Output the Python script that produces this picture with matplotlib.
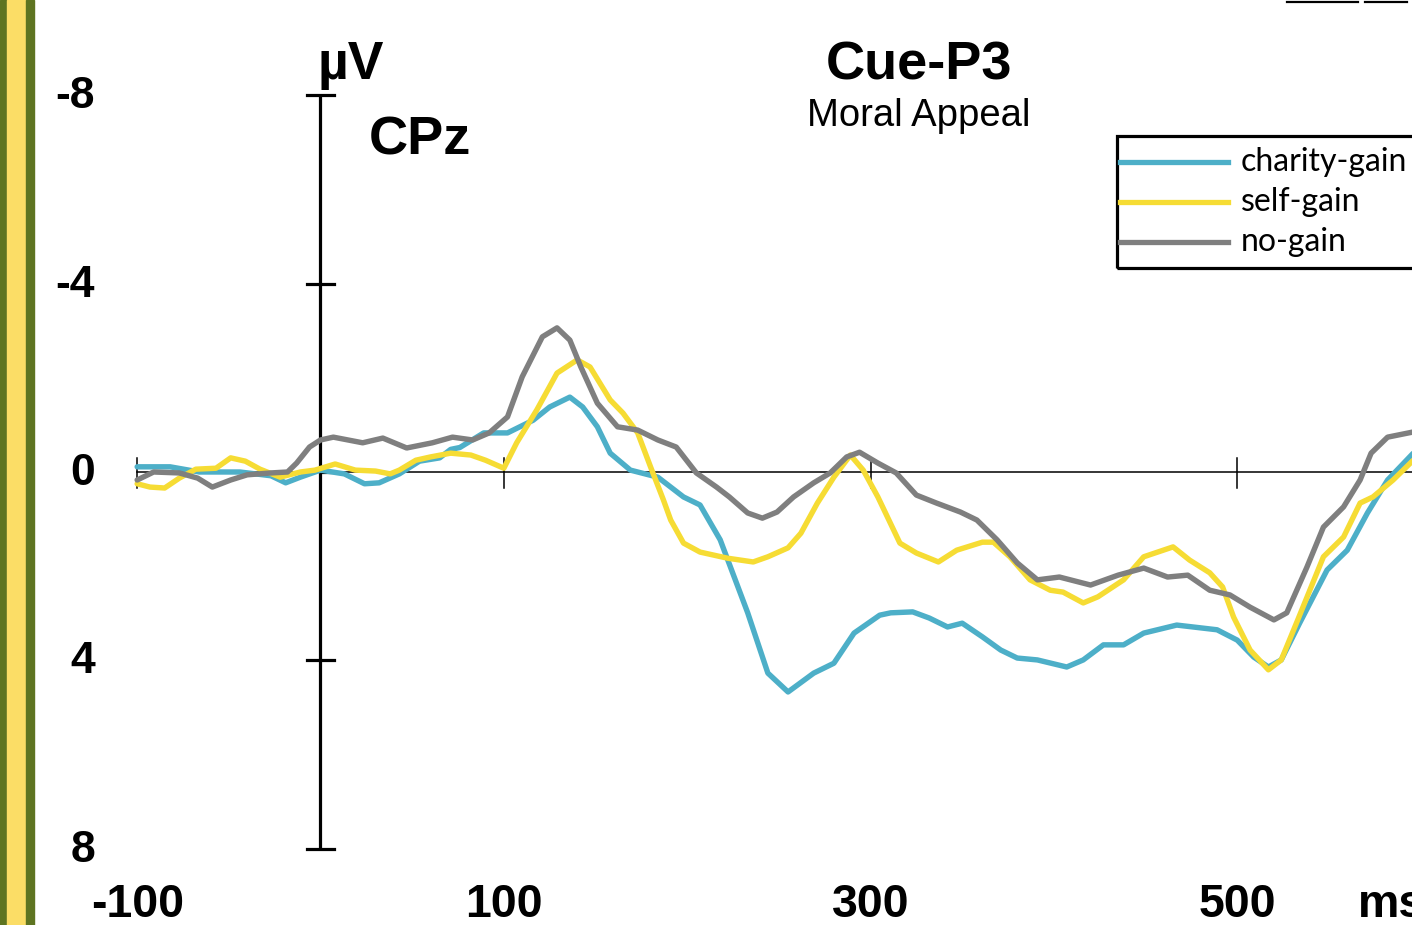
import matplotlib
matplotlib.use("Agg")
import matplotlib.pyplot as plt
from matplotlib.patches import Rectangle
from matplotlib.lines import Line2D

# ---------------- data ----------------
labels = ["charity-gain", "self-gain", "no-gain"]
colors = ["#4DAFC8", "#F6DC34", "#7F7F7F"]

charity_t = [-100, -82, -66, -44, -27, -19, -11, 0, 13, 24, 32, 43, 54, 65, 71, 76, 89, 102,
             116, 125, 136, 143, 151, 158, 169, 184, 198, 207, 218, 233, 244, 255, 269, 280,
             291, 305, 311, 323, 332, 342, 350, 361, 371, 380, 391, 407, 416, 427, 438, 449,
             467, 489, 500, 509, 517, 524, 534, 549, 560, 571, 582, 596]
charity_v = [-0.11, -0.11, 0.0, 0.0, 0.08, 0.23, 0.11, -0.04, 0.04, 0.25, 0.23, 0.04, -0.23,
             -0.30, -0.48, -0.52, -0.83, -0.83, -1.10, -1.38, -1.59, -1.38, -0.96, -0.40,
             -0.04, 0.11, 0.53, 0.70, 1.44, 2.99, 4.27, 4.67, 4.27, 4.06, 3.42, 3.04, 2.99,
             2.97, 3.10, 3.29, 3.21, 3.50, 3.78, 3.95, 3.99, 4.14, 3.99, 3.67, 3.67, 3.42,
             3.25, 3.35, 3.57, 3.93, 4.14, 3.99, 3.21, 2.08, 1.66, 0.87, 0.17, -0.40]

self_t = [-100, -93, -85, -77, -68, -57, -49, -41, -33, -22, -11, -3, 8, 19, 30, 38, 43, 52,
          60, 71, 82, 90, 100, 107, 118, 129, 140, 147, 158, 165, 173, 180, 187, 191, 198,
          207, 222, 236, 244, 255, 262, 271, 280, 289, 296, 304, 316, 325, 337, 347, 361,
          367, 376, 387, 398, 405, 416, 424, 438, 449, 465, 474, 485, 492, 498, 507, 517,
          524, 533, 547, 558, 567, 574, 585, 596]
self_v = [0.25, 0.32, 0.34, 0.13, -0.06, -0.08, -0.30, -0.23, -0.06, 0.11, 0.0, -0.04, -0.17,
          -0.04, -0.02, 0.04, -0.04, -0.25, -0.32, -0.40, -0.36, -0.25, -0.08, -0.62, -1.32,
          -2.10, -2.38, -2.23, -1.53, -1.25, -0.83, -0.11, 0.59, 1.02, 1.51, 1.70, 1.83,
          1.91, 1.80, 1.61, 1.30, 0.66, 0.11, -0.36, -0.04, 0.53, 1.51, 1.72, 1.91, 1.66,
          1.49, 1.49, 1.80, 2.29, 2.51, 2.55, 2.78, 2.65, 2.29, 1.80, 1.59, 1.87, 2.14, 2.44,
          3.08, 3.78, 4.20, 3.99, 3.14, 1.80, 1.38, 0.66, 0.53, 0.17, -0.25]

nogain_t = [-100, -91, -77, -67, -59, -49, -40, -27, -18, -13, -6, 0, 7, 23, 34, 47, 61, 72,
            83, 92, 102, 110, 121, 129, 136, 142, 151, 162, 173, 184, 194, 205, 216, 223,
            233, 241, 249, 258, 269, 278, 287, 294, 304, 314, 325, 336, 349, 358, 369, 380,
            391, 403, 420, 435, 449, 462, 473, 485, 496, 507, 520, 527, 538, 547, 558, 567,
            573, 582, 596]
nogain_v = [0.17, 0.0, 0.02, 0.13, 0.32, 0.17, 0.06, 0.02, 0.0, -0.19, -0.53, -0.68, -0.74,
            -0.62, -0.72, -0.51, -0.62, -0.74, -0.68, -0.83, -1.17, -2.02, -2.87, -3.06,
            -2.80, -2.23, -1.46, -0.96, -0.89, -0.68, -0.53, 0.02, 0.32, 0.53, 0.87, 0.98,
            0.85, 0.53, 0.23, 0.02, -0.32, -0.42, -0.19, 0.02, 0.49, 0.66, 0.85, 1.02, 1.44,
            1.93, 2.29, 2.23, 2.40, 2.19, 2.04, 2.23, 2.19, 2.51, 2.61, 2.87, 3.14, 2.99,
            2.02, 1.17, 0.74, 0.17, -0.40, -0.74, -0.85]

x_ticks = [-100, 100, 300, 500]
x_tick_labels = ["-100", "100", "300", "500"]
y_ticks = [-8, -4, 0, 4, 8]
y_tick_labels = ["-8", "-4", "0", "4", "8"]

# ---------------- figure ----------------
W, H = 1412, 925
fig = plt.figure(figsize=(W / 100, H / 100), dpi=100)
ax = fig.add_axes([0, 0, 1, 1])
ax.set_axis_off()

pxms = 1.8335    # pixels per ms
pxuv = 47.1      # pixels per microvolt
x0px, y0px = 320.5, 472.0
ax.set_xlim(-x0px / pxms, (W - x0px) / pxms)
ax.set_ylim((H - y0px) / pxuv, -y0px / pxuv)   # inverted: negative up

# left decorative bar
fig.patches.append(Rectangle((0, 0), 7 / W, 1, transform=fig.transFigure, color="#5E7421", zorder=0))
fig.patches.append(Rectangle((7 / W, 0), 19 / W, 1, transform=fig.transFigure, color="#FBDD66", zorder=0))
fig.patches.append(Rectangle((26 / W, 0), 8 / W, 1, transform=fig.transFigure, color="#5E7421", zorder=0))

# top-right cut lines
fig.lines.append(Line2D([1287 / W, 1358 / W], [1 - 1.5 / H, 1 - 1.5 / H], transform=fig.transFigure, color="black", lw=1.6))
fig.lines.append(Line2D([1365 / W, 1407 / W], [1 - 1.5 / H, 1 - 1.5 / H], transform=fig.transFigure, color="black", lw=1.6))

# x axis (zero line) with ticks
ax.plot([-100, 600], [0, 0], color="black", lw=1.1, zorder=2)
for t in x_ticks:
    ax.plot([t, t], [-0.3, 0.33], color="black", lw=1.1, zorder=2)

# y axis at 0 ms
ax.plot([0, 0], [-8, 8], color="black", lw=2.3, zorder=2, solid_capstyle="butt")
for v in y_ticks:
    if v == 0:
        ax.plot([0, 7], [0, 0], color="black", lw=2.3, zorder=2)
    else:
        ax.plot([-7.6, 7.6], [v, v], color="black", lw=2.3, zorder=2)

bold = dict(family="Liberation Sans", weight="bold", color="black")
for v, lab in zip(y_ticks, y_tick_labels):
    ax.text(-123, v + 0.03, lab, ha="right", va="center", fontsize=32, **bold)
for t, lab in zip(x_ticks, x_tick_labels):
    ax.text(t, 9.2, lab, ha="center", va="center", fontsize=33.5, **bold)
ax.text(566, 9.2, "ms", ha="left", va="center", fontsize=33.5, **bold)
ax.text(-1.5, -8.64, "µV", ha="left", va="center", fontsize=38.5, **bold)
ax.text(26.5, -7.04, "CPz", ha="left", va="center", fontsize=39, **bold)
ax.text(326.5, -8.62, "Cue-P3", ha="center", va="center", fontsize=39, **bold)
ax.text(326.5, -7.56, "Moral Appeal", ha="center", va="center", fontsize=27.5,
        family="Liberation Sans", color="black")

# waveforms
series = [(charity_t, charity_v), (self_t, self_v), (nogain_t, nogain_v)]
for (t, v), c in zip(series, colors):
    ax.plot(t, v, color=c, lw=3.9, solid_joinstyle="round", solid_capstyle="round", zorder=3)

# legend (manual, clipped by figure edge)
lx0 = 1117
fig.patches.append(Rectangle((lx0 / W, 1 - 268 / H), (W + 20 - lx0) / W, (268 - 136) / H,
                             transform=fig.transFigure, fill=False, ec="black", lw=2.3, zorder=5))
for i, (lab, c) in enumerate(zip(labels, colors)):
    yy = 1 - (162 + 40 * i) / H
    fig.lines.append(Line2D([1120 / W, 1228 / W], [yy, yy], transform=fig.transFigure,
                            color=c, lw=3.8, zorder=6))
    fig.text(1241 / W, yy, lab, ha="left", va="center", fontsize=23, family="Lato",
             color="black", zorder=6)

fig.savefig("out.png", dpi=100, facecolor="white")
